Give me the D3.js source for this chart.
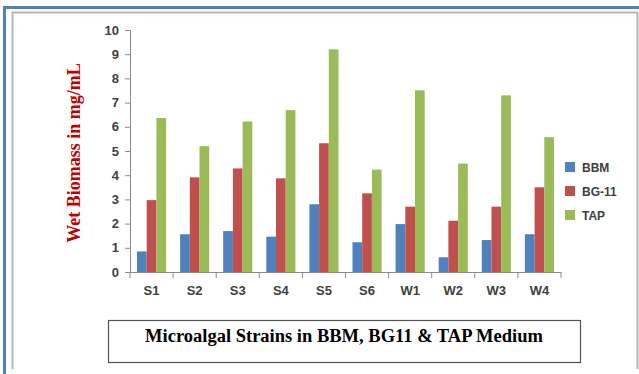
<!DOCTYPE html>
<html>
<head>
<meta charset="utf-8">
<style>
  body { margin: 0; background: #fff; }
  .tick text { font-family: "Liberation Sans", Arial, sans-serif; font-weight: bold; font-size: 13px; fill: #404040; }
</style>
<script src="https://cdn.jsdelivr.net/npm/d3@7"></script>
</head>
<body>
<div id="chart"></div>
<script>
// data
var strains = ["S1", "S2", "S3", "S4", "S5", "S6", "W1", "W2", "W3", "W4"];
var bbm  = [0.85, 1.56, 1.69, 1.46, 2.80, 1.23, 1.98, 0.61, 1.32, 1.56];
var bg11 = [2.97, 3.91, 4.28, 3.87, 5.32, 3.25, 2.70, 2.12, 2.70, 3.50];
var tap  = [6.36, 5.20, 6.22, 6.69, 9.20, 4.23, 7.51, 4.48, 7.30, 5.57];
var seriesNames = ["BBM", "BG-11", "TAP"];
var yTicks = [0, 1, 2, 3, 4, 5, 6, 7, 8, 9, 10];

var colors = ["#4f81bd", "#c0504d", "#9bbb59"];
var W = 639, H = 374;

var svg = d3.select("#chart").append("svg")
  .attr("width", W).attr("height", H);

// frames
svg.append("path").attr("d", "M4.5,374 V7.5 H639")
  .attr("fill", "none").attr("stroke", "#4f81bd").attr("stroke-width", 3);
svg.append("path").attr("d", "M12.5,369 V12.5 H637.5 V369")
  .attr("fill", "none").attr("stroke", "#b5b5b5").attr("stroke-width", 2);

var x = d3.scaleBand().domain(strains).range([130, 561]).paddingInner(0).paddingOuter(0);
var y = d3.scaleLinear().domain([0, 10]).range([272, 30]);
var x1 = d3.scaleBand().domain(seriesNames).range([0, x.bandwidth()]).paddingOuter(0.72).paddingInner(0);

var data = [bbm, bg11, tap];

var groups = svg.append("g").selectAll("g")
  .data(strains).join("g")
  .attr("transform", function(d) { return "translate(" + x(d) + ",0)"; });

groups.selectAll("rect")
  .data(function(d, i) { return seriesNames.map(function(s, k) { return {s: s, v: data[k][i], k: k}; }); })
  .join("rect")
  .attr("x", function(d) { return x1(d.s); })
  .attr("width", x1.bandwidth())
  .attr("y", function(d) { return y(d.v); })
  .attr("height", function(d) { return y(0) - y(d.v); })
  .attr("fill", function(d) { return colors[d.k]; });

// y axis
var yAxis = svg.append("g").attr("transform", "translate(130,0)")
  .call(d3.axisLeft(y).tickValues(yTicks).tickSize(5).tickPadding(6));
yAxis.select(".domain").attr("stroke", "#8c8c8c");
yAxis.selectAll(".tick line").attr("stroke", "#8c8c8c");

// x axis with ticks on category boundaries
var xAxis = svg.append("g").attr("transform", "translate(0,272)")
  .call(d3.axisBottom(x).tickSize(0).tickPadding(14).tickSizeOuter(0));
xAxis.select(".domain").attr("stroke", "#8c8c8c");
svg.append("g").selectAll("line")
  .data(strains.concat(["end"])).join("line")
  .attr("x1", function(d, i) { return 130 + i * x.bandwidth(); })
  .attr("x2", function(d, i) { return 130 + i * x.bandwidth(); })
  .attr("y1", 272).attr("y2", 278)
  .attr("stroke", "#8c8c8c");

// y title
svg.append("text")
  .attr("transform", "translate(80,153) rotate(-90)")
  .attr("text-anchor", "middle")
  .attr("font-family", "Liberation Serif, Times New Roman, serif")
  .attr("font-weight", "bold")
  .attr("font-size", "18px")
  .attr("fill", "#c00000")
  .text("Wet Biomass in mg/mL");

// legend
var legend = svg.append("g").selectAll("g")
  .data(seriesNames).join("g")
  .attr("transform", function(d, i) { return "translate(565," + (162 + i * 24) + ")"; });
legend.append("rect").attr("width", 10).attr("height", 10)
  .attr("fill", function(d, i) { return colors[i]; });
legend.append("text").attr("x", 17).attr("y", 10)
  .attr("font-family", "Liberation Sans, Arial, sans-serif")
  .attr("font-weight", "bold").attr("font-size", "12px").attr("fill", "#404040")
  .text(function(d) { return d; });

// title box
svg.append("rect").attr("x", 108.5).attr("y", 320.5).attr("width", 472).attr("height", 42)
  .attr("fill", "#fff").attr("stroke", "#555").attr("stroke-width", 1.2);
svg.append("text")
  .attr("x", 344).attr("y", 342)
  .attr("text-anchor", "middle")
  .attr("font-family", "Liberation Serif, Times New Roman, serif")
  .attr("font-weight", "bold")
  .attr("font-size", "18.5px")
  .attr("fill", "#000")
  .text("Microalgal Strains in BBM, BG11 & TAP Medium");
</script>
</body>
</html>
